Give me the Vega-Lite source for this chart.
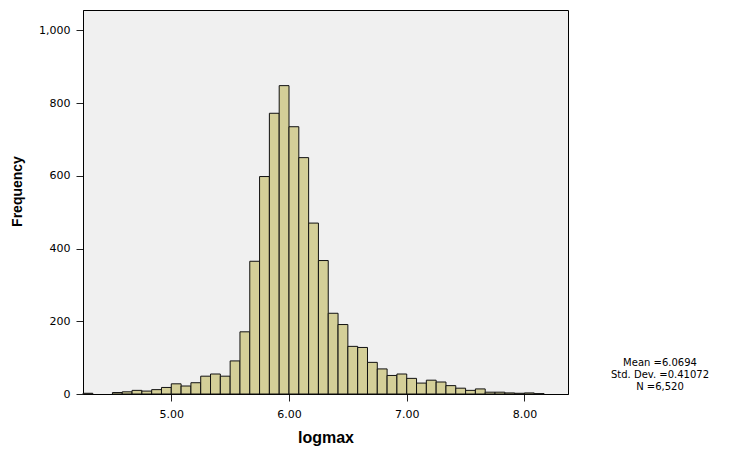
{
  "$schema": "https://vega.github.io/schema/vega-lite/v6.json",
  "width": 485,
  "height": 384,
  "autosize": "none",
  "padding": {"left": 83, "top": 10, "right": 165, "bottom": 58},
  "background": "white",
  "title": {
    "text": ["Mean =6.0694", "Std. Dev. =0.41072", "N =6,520"],
    "orient": "bottom",
    "anchor": "end",
    "frame": "group",
    "align": "center",
    "dx": 92,
    "dy": -91,
    "font": "DejaVu Sans",
    "fontSize": 10,
    "fontWeight": "normal",
    "lineHeight": 12,
    "color": "#000"
  },
  "data": {
    "values": [
      {"bin_start": 4.25, "bin_end": 4.3333, "count": 2},
      {"bin_start": 4.5, "bin_end": 4.5833, "count": 4},
      {"bin_start": 4.5833, "bin_end": 4.6667, "count": 6},
      {"bin_start": 4.6667, "bin_end": 4.75, "count": 10},
      {"bin_start": 4.75, "bin_end": 4.8333, "count": 8},
      {"bin_start": 4.8333, "bin_end": 4.9167, "count": 12},
      {"bin_start": 4.9167, "bin_end": 5.0, "count": 18},
      {"bin_start": 5.0, "bin_end": 5.0833, "count": 28},
      {"bin_start": 5.0833, "bin_end": 5.1667, "count": 22},
      {"bin_start": 5.1667, "bin_end": 5.25, "count": 31},
      {"bin_start": 5.25, "bin_end": 5.3333, "count": 49},
      {"bin_start": 5.3333, "bin_end": 5.4167, "count": 55},
      {"bin_start": 5.4167, "bin_end": 5.5, "count": 49},
      {"bin_start": 5.5, "bin_end": 5.5833, "count": 91},
      {"bin_start": 5.5833, "bin_end": 5.6667, "count": 171},
      {"bin_start": 5.6667, "bin_end": 5.75, "count": 365},
      {"bin_start": 5.75, "bin_end": 5.8333, "count": 598},
      {"bin_start": 5.8333, "bin_end": 5.9167, "count": 772},
      {"bin_start": 5.9167, "bin_end": 6.0, "count": 848},
      {"bin_start": 6.0, "bin_end": 6.0833, "count": 735},
      {"bin_start": 6.0833, "bin_end": 6.1667, "count": 650},
      {"bin_start": 6.1667, "bin_end": 6.25, "count": 470},
      {"bin_start": 6.25, "bin_end": 6.3333, "count": 367},
      {"bin_start": 6.3333, "bin_end": 6.4167, "count": 222},
      {"bin_start": 6.4167, "bin_end": 6.5, "count": 191},
      {"bin_start": 6.5, "bin_end": 6.5833, "count": 131},
      {"bin_start": 6.5833, "bin_end": 6.6667, "count": 128},
      {"bin_start": 6.6667, "bin_end": 6.75, "count": 87},
      {"bin_start": 6.75, "bin_end": 6.8333, "count": 69},
      {"bin_start": 6.8333, "bin_end": 6.9167, "count": 51},
      {"bin_start": 6.9167, "bin_end": 7.0, "count": 55},
      {"bin_start": 7.0, "bin_end": 7.0833, "count": 43},
      {"bin_start": 7.0833, "bin_end": 7.1667, "count": 30},
      {"bin_start": 7.1667, "bin_end": 7.25, "count": 38},
      {"bin_start": 7.25, "bin_end": 7.3333, "count": 33},
      {"bin_start": 7.3333, "bin_end": 7.4167, "count": 23},
      {"bin_start": 7.4167, "bin_end": 7.5, "count": 16},
      {"bin_start": 7.5, "bin_end": 7.5833, "count": 10},
      {"bin_start": 7.5833, "bin_end": 7.6667, "count": 14},
      {"bin_start": 7.6667, "bin_end": 7.75, "count": 5},
      {"bin_start": 7.75, "bin_end": 7.8333, "count": 5},
      {"bin_start": 7.8333, "bin_end": 7.9167, "count": 3},
      {"bin_start": 7.9167, "bin_end": 8.0, "count": 2},
      {"bin_start": 8.0, "bin_end": 8.0833, "count": 3},
      {"bin_start": 8.0833, "bin_end": 8.1667, "count": 1}
    ]
  },
  "mark": {"type": "bar", "fill": "#D4CF98", "stroke": "#111111", "strokeWidth": 1},
  "encoding": {
    "x": {
      "field": "bin_start",
      "type": "quantitative",
      "scale": {"domain": [4.25, 8.37], "nice": false, "zero": false},
      "axis": {
        "values": [5, 6, 7, 8],
        "format": ".2f",
        "grid": false,
        "tickSize": 7,
        "tickColor": "#222",
        "domainColor": "#000",
        "labelPadding": 7,
        "labelFont": "DejaVu Sans",
        "labelFontSize": 11,
        "labelColor": "#000",
        "title": "logmax",
        "titleFont": "Liberation Sans",
        "titleFontSize": 16,
        "titleFontWeight": "bold",
        "titleColor": "#000",
        "titlePadding": 10
      }
    },
    "x2": {"field": "bin_end"},
    "y": {
      "field": "count",
      "type": "quantitative",
      "scale": {"domain": [0, 1056], "nice": false},
      "axis": {
        "values": [0, 200, 400, 600, 800, 1000],
        "format": ",d",
        "grid": false,
        "tickSize": 7,
        "tickColor": "#222",
        "domainColor": "#000",
        "labelPadding": 6,
        "labelFont": "DejaVu Sans",
        "labelFontSize": 11,
        "labelColor": "#000",
        "title": "Frequency",
        "titleFont": "Liberation Sans",
        "titleFontSize": 14,
        "titleFontWeight": "bold",
        "titleColor": "#000",
        "titleX": -66,
        "titleY": 181,
        "titleAlign": "center",
        "titleBaseline": "middle"
      }
    },
    "y2": {"datum": 0}
  },
  "config": {
    "view": {"stroke": "#000", "strokeWidth": 1, "fill": "#F0F0F0"}
  }
}
